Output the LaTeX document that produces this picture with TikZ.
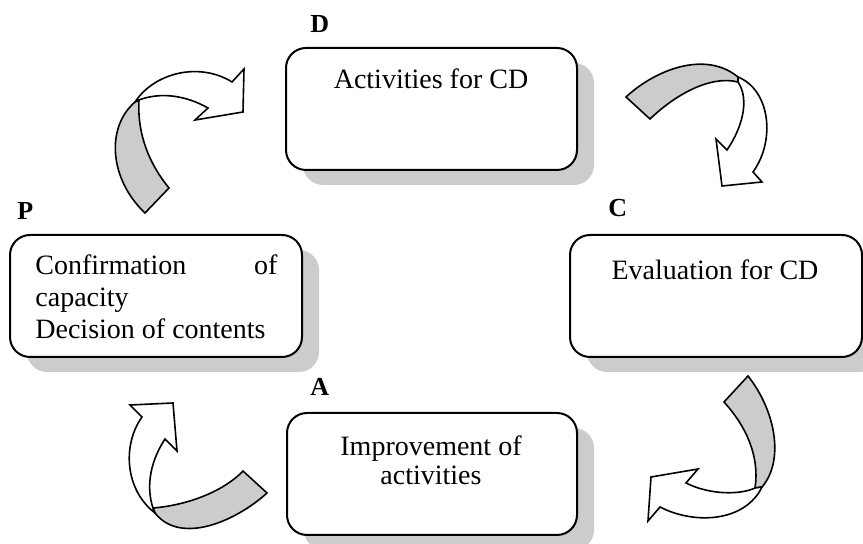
\documentclass[tikz,border=0pt]{standalone}
\usepackage{fontspec}
\setmainfont{Liberation Serif}
\usetikzlibrary{shadows}
\definecolor{shadowgray}{gray}{0.80}
\definecolor{bandgray}{gray}{0.80}
\begin{document}
\begin{tikzpicture}[x=0.5pt,y=-0.5pt,
  box/.style={draw, line width=1pt, rounded corners=10pt, fill=white,
    minimum width=#1, minimum height=61pt, inner sep=0pt,
    drop shadow={shadow xshift=8.5pt, shadow yshift=-7.5pt, fill=shadowgray, opacity=1}},
  lbl/.style={font=\fontsize{13}{15}\selectfont\bfseries, anchor=base west, inner sep=0pt},
  txt/.style={font=\fontsize{14}{16}\selectfont, anchor=base, inner sep=0pt},
  txtl/.style={font=\fontsize{14}{16}\selectfont, anchor=base west, inner sep=0pt},
  band/.style={draw, line width=0.8pt, line join=miter, fill=bandgray},
  head/.style={draw, line width=0.8pt, line join=miter, fill=white}]
\useasboundingbox (0,0) rectangle (863,544);

% boxes
\node[box=145.5pt] (D) at (431.5,109) {};
\node[box=146pt]   (P) at (156,296) {};
\node[box=146pt]   (C) at (716,296) {};
\node[box=145pt]   (A) at (432,474) {};

% letters
\node[lbl] (lD) at (310,33) {D};
\node[lbl] (lP) at (17,220) {P};
\node[lbl] (lC) at (608,217) {C};
\node[lbl] (lA) at (310,396) {A};

% texts
\node[txt] (tD) at (431,89) {Activities for CD};
\node[txt] (tC) at (715,280) {Evaluation for CD};
\node[txt] (tA1) at (431,456) {Improvement of};
\node[txt] (tA2) at (431,485) {activities};
\node[txtl] (tP1) at (35,275) {\makebox[121pt][s]{Confirmation of}};
\node[txtl] (tP2) at (35,307) {capacity};
\node[txtl] (tP3) at (35,339) {Decision of contents};

% arrow P -> D (top left)
\draw[band] (145,213) .. controls (110,180) and (105,128) .. (135,102) -- (139,100)
  .. controls (137,135) and (150,165) .. (169,188) -- cycle;
\draw[head] (135,102) .. controls (155,72) and (200,62) .. (232,82) -- (244,69) -- (243,112)
  -- (195,120) -- (208,108) .. controls (185,95) and (160,92) .. (139,100) -- cycle;

% arrow D -> C (top right)
\draw[band] (626,97) .. controls (655,70) and (705,50) .. (738,77) -- (738,82)
  .. controls (710,75) and (675,95) .. (650,119) -- cycle;
\draw[head] (738,77) .. controls (770,90) and (776,140) .. (753,172) -- (762,182) -- (722,186)
  -- (716,139) -- (727,150) .. controls (742,128) and (750,100) .. (738,82) -- cycle;

% arrow C -> A (bottom right)
\draw[band] (748,376) .. controls (775,410) and (785,460) .. (762,487) -- (755,488)
  .. controls (760,455) and (745,425) .. (724,402) -- cycle;
\draw[head] (762,487) .. controls (745,522) and (695,525) .. (660,507) -- (648,521) -- (651,477)
  -- (698,469) -- (686,483) .. controls (710,495) and (740,495) .. (755,488) -- cycle;

% arrow A -> P (bottom left)
\draw[band] (267,493) .. controls (235,522) and (180,545) .. (155,513) -- (153,508)
  .. controls (190,505) and (225,490) .. (243,471) -- cycle;
\draw[head] (155,513) .. controls (125,490) and (122,445) .. (142,417) -- (130,405) -- (173,403)
  -- (177,451) -- (165,439) .. controls (148,465) and (147,490) .. (153,508) -- cycle;
\end{tikzpicture}
\end{document}
